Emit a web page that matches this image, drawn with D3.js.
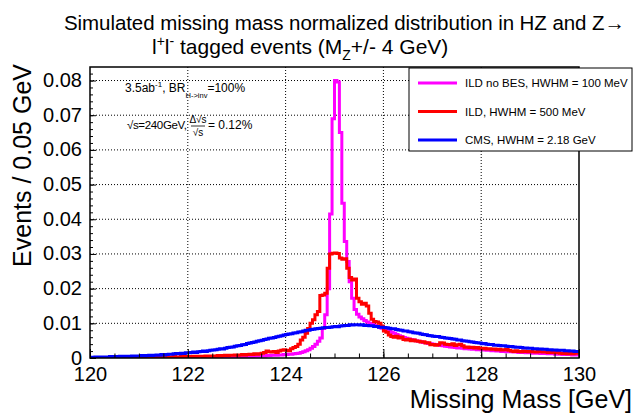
<!DOCTYPE html>
<html>
<head>
<meta charset="utf-8">
<script src="https://cdn.jsdelivr.net/npm/d3@7"></script>
<style>
  body { margin: 0; background: #fff; }
  svg { font-family: "Liberation Sans", Arial, Helvetica, sans-serif; }
  .tick text { font-size: 20px; fill: #000; }
</style>
</head>
<body>
<svg id="svg"></svg>
<script>
// missing mass bins, 0.05 GeV wide, 120 -> 130 GeV
const massMin = 120
const massMax = 130
const binWidth = 0.05
const xTicks = [120, 122, 124, 126, 128, 130]
const yTicks = [0, 0.01, 0.02, 0.03, 0.04, 0.05, 0.06, 0.07, 0.08]

const seriesNames = ['ILD no BES, HWHM = 100 MeV', 'ILD, HWHM = 500 MeV', 'CMS, HWHM = 2.18 GeV']
const seriesColors = ['#ff00ff', '#ff0000', '#0000ff']

// ILD no BES
const ildNoBes = [
  0,0,0,0,0,0,0,0,0,0,0,0,0,0,0,0,0,0,0,0,
  0,0,0,0,0,0,0,0,0,0,0,0,0,0,0.0001,0,0,0.0001,0,0.0001,
  0.0001,0,0.0001,0.0001,0.0001,0.0001,0.0002,0.0001,0.0001,0.0002,0.0002,0.0001,0.0002,0.0002,0.0002,0.0003,0.0002,0.0003,0.0003,0.0003,
  0.0003,0.0004,0.0003,0.0004,0.0004,0.0005,0.0004,0.0005,0.0005,0.0006,0.0006,0.0006,0.0007,0.0007,0.0008,0.0008,0.0008,0.0009,0.0009,0.0010,
  0.0010,0.0011,0.0011,0.0012,0.0013,0.0014,0.0016,0.0018,0.0021,0.0024,0.0028,0.0033,0.0040,0.0048,0.0058,0.0085,0.0125,0.0200,0.0415,0.0690,
  0.0800,0.0796,0.0650,0.0446,0.0336,0.0278,0.0220,0.0172,0.0140,0.0126,0.0118,0.0113,0.0108,0.0104,0.0100,0.0098,0.0094,0.0091,0.0089,0.0086,
  0.0083,0.0080,0.0077,0.0074,0.0071,0.0068,0.0064,0.0062,0.0059,0.0057,0.0055,0.0053,0.0052,0.0050,0.0048,0.0047,0.0045,0.0044,0.0042,0.0041,
  0.0040,0.0039,0.0038,0.0036,0.0035,0.0034,0.0033,0.0032,0.0031,0.0030,0.0029,0.0029,0.0028,0.0027,0.0027,0.0026,0.0025,0.0025,0.0024,0.0024,
  0.0023,0.0023,0.0022,0.0022,0.0021,0.0021,0.0020,0.0020,0.0019,0.0019,0.0018,0.0018,0.0018,0.0017,0.0017,0.0016,0.0016,0.0016,0.0015,0.0015,
  0.0015,0.0014,0.0014,0.0014,0.0013,0.0013,0.0013,0.0012,0.0012,0.0012,0.0011,0.0011,0.0011,0.0010,0.0010,0.0010,0.0010,0.0009,0.0009,0.0009
]

// ILD
const ild = [
  0,0.0001,0,0.0001,0.0001,0,0.0001,0.0001,0.0001,0,0.0001,0.0001,0.0002,0.0001,0.0001,0.0001,0.0002,0.0001,0.0002,0.0001,
  0.0002,0.0002,0.0001,0.0002,0.0002,0.0003,0.0002,0.0002,0.0003,0.0002,0.0003,0.0003,0.0002,0.0003,0.0004,0.0003,0.0003,0.0004,0.0003,0.0004,
  0.0004,0.0004,0.0005,0.0004,0.0005,0.0005,0.0004,0.0006,0.0005,0.0006,0.0006,0.0005,0.0007,0.0006,0.0007,0.0008,0.0007,0.0008,0.0008,0.0009,
  0.0008,0.0009,0.0010,0.0009,0.0010,0.0011,0.0010,0.0012,0.0011,0.0012,0.0014,0.0016,0.0020,0.0018,0.0017,0.0019,0.0016,0.0020,0.0022,0.0024,
  0.0022,0.0021,0.0027,0.0030,0.0033,0.0040,0.0052,0.0060,0.0071,0.0085,0.0100,0.0110,0.0125,0.0134,0.0180,0.0182,0.0187,0.0259,0.0300,0.0302,
  0.0303,0.0301,0.0288,0.0285,0.0286,0.0259,0.0232,0.0225,0.0228,0.0172,0.0162,0.0155,0.0158,0.0150,0.0129,0.0112,0.0105,0.0104,0.0100,0.0092,
  0.0078,0.0074,0.0066,0.0062,0.0060,0.0063,0.0058,0.0060,0.0053,0.0052,0.0054,0.0050,0.0052,0.0049,0.0048,0.0046,0.0047,0.0043,0.0044,0.0038,
  0.0039,0.0037,0.0038,0.0044,0.0043,0.0040,0.0039,0.0038,0.0041,0.0036,0.0038,0.0040,0.0035,0.0031,0.0032,0.0030,0.0031,0.0029,0.0030,0.0028,
  0.0027,0.0028,0.0026,0.0027,0.0025,0.0026,0.0024,0.0025,0.0023,0.0024,0.0025,0.0022,0.0020,0.0019,0.0021,0.0019,0.0018,0.0020,0.0019,0.0018,
  0.0019,0.0018,0.0017,0.0019,0.0018,0.0017,0.0018,0.0016,0.0017,0.0016,0.0015,0.0016,0.0014,0.0013,0.0014,0.0012,0.0013,0.0012,0.0015,0.0014
]

// CMS
const cms = [
  0.0002,0.0002,0.0003,0.0002,0.0003,0.0003,0.0002,0.0003,0.0004,0.0003,0.0004,0.0004,0.0005,0.0004,0.0005,0.0005,0.0004,0.0006,0.0005,0.0006,
  0.0006,0.0007,0.0006,0.0007,0.0008,0.0007,0.0008,0.0009,0.0008,0.0010,0.0009,0.0010,0.0011,0.0011,0.0012,0.0013,0.0012,0.0014,0.0013,0.0015,
  0.0015,0.0016,0.0017,0.0016,0.0018,0.0019,0.0020,0.0019,0.0021,0.0022,0.0023,0.0024,0.0025,0.0027,0.0026,0.0028,0.0030,0.0031,0.0032,0.0034,
  0.0035,0.0036,0.0038,0.0039,0.0042,0.0043,0.0045,0.0046,0.0048,0.0050,0.0051,0.0053,0.0055,0.0057,0.0058,0.0059,0.0061,0.0063,0.0064,0.0066,
  0.0068,0.0069,0.0070,0.0072,0.0073,0.0075,0.0076,0.0078,0.0080,0.0080,0.0082,0.0083,0.0084,0.0085,0.0086,0.0087,0.0088,0.0088,0.0089,0.0090,
  0.0091,0.0090,0.0092,0.0093,0.0094,0.0094,0.0096,0.0095,0.0096,0.0096,0.0095,0.0096,0.0094,0.0094,0.0093,0.0093,0.0091,0.0091,0.0089,0.0089,
  0.0088,0.0087,0.0086,0.0084,0.0084,0.0082,0.0081,0.0080,0.0078,0.0078,0.0076,0.0075,0.0073,0.0072,0.0071,0.0069,0.0068,0.0067,0.0065,0.0064,
  0.0063,0.0062,0.0062,0.0060,0.0059,0.0058,0.0057,0.0056,0.0055,0.0054,0.0052,0.0052,0.0050,0.0049,0.0048,0.0047,0.0046,0.0045,0.0044,0.0043,
  0.0041,0.0042,0.0040,0.0039,0.0039,0.0037,0.0037,0.0036,0.0035,0.0035,0.0034,0.0033,0.0033,0.0032,0.0031,0.0031,0.0030,0.0029,0.0029,0.0028,
  0.0028,0.0027,0.0027,0.0026,0.0026,0.0025,0.0025,0.0024,0.0024,0.0023,0.0023,0.0022,0.0022,0.0022,0.0021,0.0021,0.0020,0.0020,0.0019,0.0019
]

const svg = d3.select('#svg')
  .attr('width', 635)
  .attr('height', 414)

const padding = {
  top: 67,
  right: 56,
  bottom: 56,
  left: 90
}

const chartArea = {
  width: 635 - padding.left - padding.right,
  height: 414 - padding.top - padding.bottom
}

const xScale = d3.scaleLinear()
  .domain([massMin, massMax])
  .range([0, chartArea.width])

const yScale = d3.scaleLinear()
  .domain([0, 0.0839])
  .range([chartArea.height, 0])

const plot = svg.append('g')
  .attr('transform', 'translate(' + padding.left + ',' + padding.top + ')')

plot.append('clipPath').attr('id', 'clip')
  .append('rect')
  .attr('width', chartArea.width)
  .attr('height', chartArea.height)

// grid
plot.append('g')
  .selectAll('line')
  .data(xTicks.slice(1, -1))
  .enter()
  .append('line')
  .attr('x1', d => xScale(d)).attr('x2', d => xScale(d))
  .attr('y1', 0).attr('y2', chartArea.height)
  .attr('stroke', '#000').attr('stroke-width', 1).attr('stroke-dasharray', '1,2')

plot.append('g')
  .selectAll('line')
  .data(yTicks.slice(1))
  .enter()
  .append('line')
  .attr('y1', d => yScale(d)).attr('y2', d => yScale(d))
  .attr('x1', 0).attr('x2', chartArea.width)
  .attr('stroke', '#000').attr('stroke-width', 1).attr('stroke-dasharray', '1,2')

// histograms
const edges = d3.range(ildNoBes.length + 1).map(i => massMin + i * binWidth)
const stepLine = d3.line()
  .x(d => xScale(d[0]))
  .y(d => yScale(d[1]))
  .curve(d3.curveStepAfter)

const allSeries = [ildNoBes, ild, cms]
allSeries.forEach(function (values, k) {
  const pts = values.map((v, i) => [edges[i], v])
  pts.push([edges[values.length], values[values.length - 1]])
  plot.append('path')
    .attr('d', stepLine(pts))
    .attr('fill', 'none')
    .attr('stroke', seriesColors[k])
    .attr('stroke-width', 3)
    .attr('clip-path', 'url(#clip)')
})

// axes
const xAxis = plot.append('g')
  .attr('transform', 'translate(0,' + chartArea.height + ')')
  .call(d3.axisBottom(xScale).tickValues(xTicks).tickSize(-9).tickPadding(9).tickFormat(d3.format('d')))
xAxis.select('.domain').remove()

const xMinor = plot.append('g')
  .attr('transform', 'translate(0,' + chartArea.height + ')')
  .call(d3.axisBottom(xScale).ticks(20).tickSize(-4.5).tickFormat(''))
xMinor.select('.domain').remove()

const yAxis = plot.append('g')
  .call(d3.axisLeft(yScale).tickValues(yTicks).tickSize(-6).tickPadding(8)
    .tickFormat(d => d === 0 ? '0' : d3.format('.2f')(d)))
yAxis.select('.domain').remove()
yAxis.selectAll('.tick text').attr('dy', '0.3em')

const yMinor = plot.append('g')
  .call(d3.axisLeft(yScale).ticks(41).tickSize(-3).tickFormat(''))
yMinor.select('.domain').remove()

plot.selectAll('.tick line').attr('stroke', '#000')

// frame
plot.append('rect')
  .attr('width', chartArea.width)
  .attr('height', chartArea.height)
  .attr('fill', 'none')
  .attr('stroke', '#000')
  .attr('stroke-width', 1.5)

// titles
svg.append('text')
  .attr('font-size', 20.5)
  .attr('x', 64).attr('y', 30)
  .attr('textLength', 561)
  .text('Simulated missing mass normalized distribution in HZ and Z\u2192')

const title2 = svg.append('text').attr('font-size', 21).attr('x', 152).attr('y', 54)
title2.append('tspan').text('l')
title2.append('tspan').attr('font-size', 14).attr('dy', -8).text('+')
title2.append('tspan').attr('dy', 8).text('l')
title2.append('tspan').attr('font-size', 14).attr('dy', -8).text('-')
title2.append('tspan').attr('dy', 8).text(' tagged events (M')
title2.append('tspan').attr('font-size', 14).attr('dy', 6).text('Z')
title2.append('tspan').attr('dy', -6).text('+/- 4 GeV)')

svg.append('text')
  .attr('transform', 'translate(31,64) rotate(-90)')
  .attr('text-anchor', 'end')
  .attr('font-size', 25)
  .text('Events / 0.05 GeV')

svg.append('text')
  .attr('x', 632)
  .attr('y', 408)
  .attr('text-anchor', 'end')
  .attr('font-size', 25)
  .text('Missing Mass [GeV]')

// info text
const info1 = svg.append('text').attr('x', 125).attr('y', 92).attr('font-size', 12)
info1.append('tspan').text('3.5ab')
info1.append('tspan').attr('font-size', 8).attr('dy', -5).text('-1')
info1.append('tspan').attr('dy', 5).text(', BR')
info1.append('tspan').attr('font-size', 7.5).attr('dy', 6).text('H->inv')
info1.append('tspan').attr('dy', -6).text('=100%')

svg.append('text').attr('x', 127).attr('y', 129).attr('font-size', 11.5)
  .attr('textLength', 60)
  .text('\u221As=240GeV,')
svg.append('text').attr('x', 198).attr('y', 123).attr('font-size', 10)
  .attr('text-anchor', 'middle').text('\u0394\u221As')
svg.append('line').attr('x1', 191).attr('x2', 205).attr('y1', 126).attr('y2', 126)
  .attr('stroke', '#000').attr('stroke-width', 0.8)
svg.append('text').attr('x', 198).attr('y', 136).attr('font-size', 10)
  .attr('text-anchor', 'middle').text('\u221As')
svg.append('text').attr('x', 208).attr('y', 129).attr('font-size', 12)
  .text('= 0.12%')

// legend
const legend = svg.append('g').attr('transform', 'translate(409,68)')
legend.append('rect')
  .attr('width', 223)
  .attr('height', 83)
  .attr('fill', '#fff')
  .attr('stroke', '#000')
  .attr('stroke-width', 1)

const rows = legend.selectAll('g.row')
  .data(seriesNames)
  .enter()
  .append('g')
  .attr('class', 'row')
  .attr('transform', (d, i) => 'translate(0,' + (15 + i * 28.5) + ')')
rows.append('line')
  .attr('x1', 9).attr('x2', 48)
  .attr('stroke', (d, i) => seriesColors[i])
  .attr('stroke-width', 3)
rows.append('text')
  .attr('x', 56)
  .attr('dy', '0.35em')
  .attr('font-size', 11.5)
  .text(d => d)
</script>
</body>
</html>
